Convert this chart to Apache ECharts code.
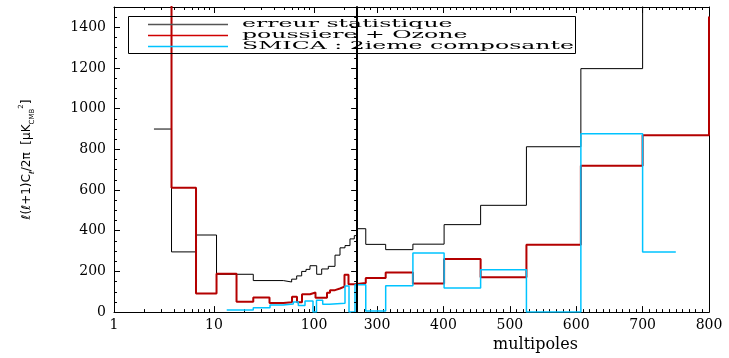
<!DOCTYPE html>
<html><head><meta charset="utf-8">
<script src="https://cdn.jsdelivr.net/npm/echarts@6/dist/echarts.min.js"></script>
<style>html,body{margin:0;padding:0;background:#fff}#c{width:729px;height:358px}</style>
</head><body><div id="c"></div>
<script>
// ---------- data (multipole bin edges and binned values) ----------
const seriesNames = ['erreur statistique', 'poussiere + Ozone', 'SMICA : 2ieme composante'];

const blackEdges = [2.51, 3.76, 6.61, 10.6, 24.7, 49.3, 59.8, 67.1, 75.3, 83.2, 91.2, 106.4, 119.4, 139, 162.2, 182, 204.2, 229, 253, 269, 283, 313, 354, 401, 456, 525, 607, 700, 800];
const blackValues = [900, 296, 379, 186, 155, 148, 162, 178, 200, 210, 228, 186, 212, 225, 280, 316, 327, 360, 376, 410, 333, 307, 334, 430, 525, 813, 1197, 3000];

const redEdges = [2.51, 3.76, 6.61, 10.6, 16.8, 24.7, 35.9, 49.3, 60.3, 67.6, 75.9, 91.2, 103.5, 134.9, 144.5, 162.2, 182, 201.8, 221.3, 257, 283, 313, 354, 401, 456, 525, 607, 700, 800];
const redValues = [3000, 611, 92, 189, 51, 72, 45, 48, 75, 48, 88, 96, 71, 95, 108, 116, 125, 184, 137, 143, 168, 195, 141, 261, 171, 331, 720, 869];
const redTail = 1453;

const cyanEdges = [13.4, 24.7, 36.3, 49.3, 62.1, 69.7, 81.3, 97.7, 105.9, 122.2, 142.2, 204.2, 223.9, 257, 283, 313, 354, 401, 456, 525, 607, 700, 750];
const cyanValues = [10, 22, 35, 40, 50, 33, 55, 0, 58, 38, 44, 128, 0, 135, 5, 130, 291, 118, 208, 0, 877, 296];

const xTickLabels = [1, 10, 100, 300, 400, 500, 600, 700, 800];
const xMajorTicks = [1, 10, 100, 300, 400, 500, 600, 700, 800];
const xLogMinorTicks = [2, 3, 4, 5, 6, 7, 8, 9, 20, 30, 40, 50, 60, 70, 80, 90, 200];
const yTickLabels = [0, 200, 400, 600, 800, 1000, 1200, 1400];
const Y_MAX = 1500;

// ---------- hybrid axis: log10 up to the break, linear after ----------
const L_BREAK = 270, X_END = 800;
const U_MAX = 595;
const LOG_W = 100 * Math.log10(L_BREAK);
const SLOPE = (U_MAX - LOG_W) / (X_END - L_BREAK);
function T(l) { return l <= L_BREAK ? 100 * Math.log10(l) : LOG_W + (l - L_BREAK) * SLOPE; }
function Tinv(u) { return u <= LOG_W ? Math.pow(10, u / 100) : L_BREAK + (u - LOG_W) / SLOPE; }

const xMinorTicks = xLogMinorTicks.slice();
for (let l = 280; l < 800; l += 10) if (l % 100 !== 0) xMinorTicks.push(l);
const yMinorTicks = [];
for (let v = 50; v <= Y_MAX; v += 50) if (v % 200 !== 0) yMinorTicks.push(v);

function steps(edges, values, tail) {
  const pts = [];
  for (let i = 0; i < values.length; i++) {
    pts.push([T(edges[i]), values[i]]);
    pts.push([T(edges[i + 1]), values[i]]);
  }
  if (tail != null) pts.push([T(edges[edges.length - 1]), tail]);
  return pts;
}

const colors = ['#000000', '#b40000', '#00c3ff'];
const widths = [1, 2, 1.5];
const tickFont = { fontFamily: 'DejaVu Serif', fontSize: 14, color: '#000' };

function xAx(pos, ticks, len, withLine, withLabels) {
  return {
    type: 'value', position: pos, min: 0, max: U_MAX,
    axisLine: { show: withLine, onZero: false, lineStyle: { color: '#000', width: 1 } },
    axisTick: { show: true, inside: true, length: len, customValues: ticks.map(T), lineStyle: { color: '#000', width: 1 } },
    axisLabel: withLabels ? Object.assign({ show: true, margin: 6, customValues: xTickLabels.map(T),
      formatter: v => String(Math.round(Tinv(v))) }, tickFont) : { show: false },
    splitLine: { show: false }
  };
}
function yAx(pos, ticks, len, lineW, extra) {
  return Object.assign({
    type: 'value', position: pos, min: 0, max: Y_MAX,
    axisLine: { show: lineW > 0, onZero: false, lineStyle: { color: '#000', width: lineW || 1 } },
    axisTick: { show: ticks.length > 0, inside: true, length: len, customValues: ticks, lineStyle: { color: '#000', width: 1 } },
    axisLabel: { show: false },
    splitLine: { show: false }
  }, extra || {});
}

const chart = echarts.init(document.getElementById('c'), null, { renderer: 'canvas' });
const option = {
  animation: false,
  backgroundColor: '#fff',
  grid: { left: 114, top: 7, width: U_MAX, height: 313 },
  xAxis: [
    Object.assign(xAx('bottom', xMajorTicks, 6, true, true), {
      name: 'multipoles', nameLocation: 'middle', nameGap: 19,
      nameTextStyle: { fontFamily: 'DejaVu Serif', fontSize: 16, color: '#000', padding: [0, 0, 0, 248] }
    }),
    xAx('bottom', xMinorTicks, 3, false, false),
    xAx('top', xMajorTicks, 6, true, false),
    xAx('top', xMinorTicks, 3, false, false)
  ],
  yAxis: [
    yAx('left', yTickLabels, 6, 1, {
      axisLabel: Object.assign({ show: true, margin: 8, customValues: yTickLabels, formatter: v => String(v) }, tickFont),
      name: '{a|ℓ(ℓ+1)C}{s|ℓ}{a|/2π  [μK}{s|CMB}{p|2}{a|]}',
      nameLocation: 'middle', nameRotate: 90, nameGap: 78,
      nameTextStyle: {
        rich: {
          a: { fontFamily: 'DejaVu Sans', fontSize: 12, color: '#000', lineHeight: 18, verticalAlign: 'middle' },
          s: { fontFamily: 'DejaVu Sans', fontSize: 7, color: '#000', lineHeight: 18, verticalAlign: 'bottom' },
          p: { fontFamily: 'DejaVu Sans', fontSize: 7, color: '#000', lineHeight: 18, verticalAlign: 'top' }
        }
      }
    }),
    yAx('left', yMinorTicks, 3, 0),
    yAx('right', yTickLabels, 6, 2, { offset: -(U_MAX - LOG_W), z: 10 }),
    yAx('right', yMinorTicks, 3, 0, { offset: -(U_MAX - LOG_W), z: 10 }),
    yAx('right', [], 0, 1)
  ],
  series: [
    { name: seriesNames[0], data: steps(blackEdges, blackValues) },
    { name: seriesNames[1], data: steps(redEdges, redValues, redTail) },
    { name: seriesNames[2], data: steps(cyanEdges, cyanValues) }
  ].map((s, i) => Object.assign(s, {
    type: 'line', xAxisIndex: 0, yAxisIndex: 0, showSymbol: false, symbol: 'none', clip: true,
    lineStyle: { color: colors[i], width: widths[i] }, itemStyle: { color: colors[i] }, z: 3 + i
  }))
};
chart.setOption(option);

// ---------- legend box (wide Hershey-like text emulated by horizontal scaling) ----------
const legendFont = '11px "DejaVu Serif"';
const ctx = document.createElement('canvas').getContext('2d');
ctx.font = legendFont;
const longest = ctx.measureText(seriesNames[2]).width;
const sx = 332 / longest;
const rowY = [24.5, 35.5, 46.5];
const legendColors = ['#555555', '#d00000', '#00c3ff'];
const legendEls = [{ type: 'rect', shape: { x: 128.5, y: 16.5, width: 447, height: 37 },
  style: { fill: 'none', stroke: '#000', lineWidth: 1 }, z: 20 }];
seriesNames.forEach((n, i) => {
  legendEls.push({ type: 'line', shape: { x1: 148, y1: rowY[i], x2: 228, y2: rowY[i] },
    style: { stroke: legendColors[i], lineWidth: 1.5 }, z: 20 });
  legendEls.push({ type: 'text', x: 242, y: rowY[i], scaleX: sx, scaleY: 1,
    style: { text: n, font: legendFont, fill: '#000', verticalAlign: 'middle', align: 'left' }, z: 20 });
});
chart.setOption({ graphic: legendEls });
</script>
</body></html>
